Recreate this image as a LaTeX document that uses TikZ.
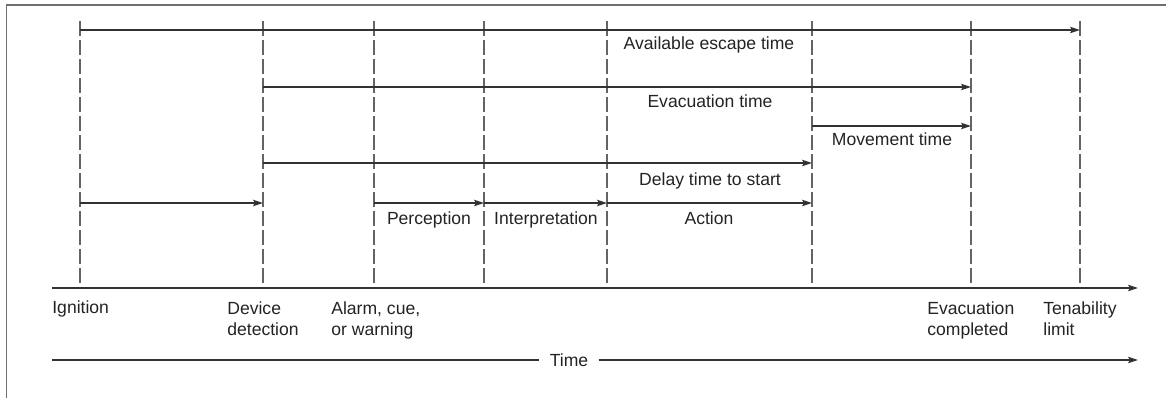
\documentclass[tikz,border=0pt]{standalone}
\usepackage{fontspec}
\setmainfont{Liberation Sans}
\usetikzlibrary{arrows.meta}
\definecolor{linegray}{RGB}{50,50,50}
\definecolor{dashgray}{RGB}{100,100,100}
\definecolor{framegray}{RGB}{110,110,110}
\definecolor{textgray}{RGB}{35,35,35}
\begin{document}
\begin{tikzpicture}[x=0.02cm,y=-0.02cm,
  axis/.style={draw=linegray,line width=0.7pt},
  span/.style={axis,-{Stealth[length=2mm,width=1.3mm,inset=0.4mm]}},
  guide/.style={draw=dashgray,line width=0.75pt,dash pattern=on 3mm off 0.8mm},
  lbl/.style={font=\fontsize{10}{12.5}\selectfont,text=textgray,inner sep=0pt},
  below lbl/.style={lbl,anchor=base west,align=left},
]
\useasboundingbox (0,0) rectangle (1166,398);
\draw[framegray,line width=0.9pt] (1170,5) -- (6.5,5) -- (6.5,402);

% time points
\foreach \n/\x in {ig/80,dd/263,al/374,pe/484,in/607,ac/812,ev/971,te/1080} {
  \coordinate (\n-top) at (\x,21);
  \coordinate (\n-bot) at (\x,288);
}
\foreach \n in {ig,dd,al,pe,in,ac,ev,te}
  \draw[guide] (\n-top) -- (\n-bot);

% lanes
\coordinate (l1) at (0,30);
\coordinate (l2) at (0,87);
\coordinate (l3) at (0,126);
\coordinate (l4) at (0,163);
\coordinate (l5) at (0,203);

\draw[span] (ig-top |- l1) -- (te-top |- l1);
\draw[span] (dd-top |- l2) -- (ev-top |- l2);
\draw[span] (ac-top |- l3) -- (ev-top |- l3);
\draw[span] (dd-top |- l4) -- (ac-top |- l4);
\draw[span] (ig-top |- l5) -- (dd-top |- l5);
\draw[span] (al-top |- l5) -- (pe-top |- l5);
\draw[span] (pe-top |- l5) -- (in-top |- l5);
\draw[span] (in-top |- l5) -- (ac-top |- l5);

\node[lbl,anchor=base] (avail) at (709,50) {Available escape time};
\node[lbl,anchor=base] (evac) at (710,108) {Evacuation time};
\node[lbl,anchor=base] (move) at (892,146) {Movement time};
\node[lbl,anchor=base] (delay) at (710,186) {Delay time to start};
\node[lbl,anchor=base] (perc) at (429,225) {Perception};
\node[lbl,anchor=base] (interp) at (546,225) {Interpretation};
\node[lbl,anchor=base] (action) at (709,225) {Action};

% time axis
\coordinate (ax0) at (52,288);
\coordinate (ax1) at (1138,288);
\draw[span] (ax0) -- (ax1);

\node[below lbl] (ign) at (52,314) {Ignition};
\node[below lbl] (det) at (227,336) {Device\\detection};
\node[below lbl] (alarm) at (331,336) {Alarm, cue,\\or warning};
\node[below lbl] (evc) at (927,336) {Evacuation\\completed};
\node[below lbl] (ten) at (1043,336) {Tenability\\limit};

% time line
\coordinate (tl0) at (52,360);
\coordinate (tl1) at (1138,360);
\node[lbl,inner xsep=2mm] (time) at (569,360) {Time};
\draw[axis] (tl0) -- (time.west);
\draw[span] (time.east) -- (tl1);
\end{tikzpicture}
\end{document}
